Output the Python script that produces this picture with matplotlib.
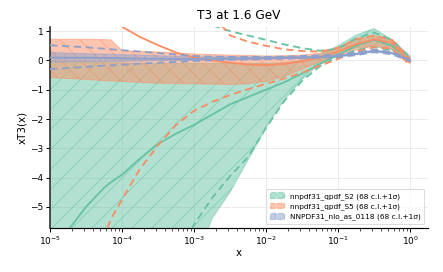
import numpy as np
import matplotlib
matplotlib.use("Agg")
import matplotlib.pyplot as plt
from matplotlib.patches import Patch

# ---- data (log10 x grid) ----
logx = [-5, -4.75, -4.5, -4.25, -4.15, -4, -3.75, -3.5, -3.25, -3, -2.75, -2.5,
        -2.25, -2, -1.75, -1.5, -1.25, -1, -0.75, -0.5, -0.25, 0]

# nnpdf31_qpdf_S2
s2_cv  = [-6.6, -5.8, -5.0, -4.35, -4.15, -3.9, -3.35, -2.85, -2.5, -2.2, -1.85, -1.5,
          -1.25, -1.0, -0.75, -0.45, -0.12, 0.18, 0.5, 0.7, 0.5, 0.0]
s2_hi  = [-0.05, -0.05, -0.06, -0.07, -0.07, -0.08, -0.09, -0.1, -0.1, -0.1, -0.1, -0.1,
          -0.1, -0.1, -0.08, 0.0, 0.2, 0.5, 0.86, 1.09, 0.7, 0.15]
s2_lo  = [-14, -13, -12, -11, -10.5, -10, -9, -8.5, -8, -7.0, -5.4, -4.5,
          -3.4, -2.3, -1.35, -0.65, -0.1, 0.22, 0.42, 0.48, 0.35, -0.05]
s2_su  = [6, 5.5, 5, 4.5, 4.3, 4, 3.2, 2.6, 2.0, 1.5, 1.2, 1.0,
          0.85, 0.7, 0.55, 0.42, 0.33, 0.4, 0.75, 0.95, 0.7, 0.1]
s2_sd  = [-20, -18, -16, -14, -13, -12, -10, -9, -7, -5.6, -4.7, -3.95,
          -3.3, -2.3, -1.4, -0.7, -0.2, 0.12, 0.35, 0.45, 0.35, -0.05]

# nnpdf31_qpdf_S5
s5_cv  = [4.5, 3.4, 2.5, 1.7, 1.45, 1.15, 0.8, 0.52, 0.27, 0.1, 0.0, -0.08,
          -0.14, -0.16, -0.12, -0.03, 0.1, 0.3, 0.55, 0.72, 0.6, -0.05]
s5_hi  = [0.72, 0.72, 0.72, 0.71, 0.70, 0.33, 0.31, 0.29, 0.25, 0.22, 0.2, 0.18,
          0.17, 0.15, 0.16, 0.18, 0.25, 0.45, 0.7, 0.85, 0.7, 0.1]
s5_lo  = [-0.58, -0.62, -0.65, -0.69, -0.7, -0.72, -0.75, -0.78, -0.79, -0.8, -0.81, -0.82,
          -0.8, -0.72, -0.55, -0.3, -0.05, 0.15, 0.35, 0.5, 0.4, -0.12]
s5_su  = [9, 8, 7, 6, 5.6, 5, 4.2, 3.4, 2.8, 2.2, 1.6, 0.85,
          0.64, 0.5, 0.38, 0.32, 0.3, 0.42, 0.72, 0.85, 0.7, 0.05]
s5_sd  = [-14, -10, -8, -6.0, -5.4, -4.75, -3.7, -2.9, -2.2, -1.72, -1.42, -1.18,
          -0.98, -0.8, -0.62, -0.42, -0.18, 0.05, 0.3, 0.45, 0.4, -0.15]

# NNPDF31_nlo_as_0118
n3_cv  = [0.1, 0.09, 0.09, 0.08, 0.08, 0.07, 0.06, 0.06, 0.05, 0.05, 0.06, 0.06,
          0.07, 0.08, 0.09, 0.1, 0.12, 0.15, 0.22, 0.32, 0.25, 0.0]
n3_hi  = [0.27, 0.25, 0.23, 0.22, 0.21, 0.2, 0.18, 0.16, 0.14, 0.12, 0.12, 0.12,
          0.12, 0.12, 0.13, 0.14, 0.15, 0.18, 0.25, 0.36, 0.28, 0.03]
n3_lo  = [-0.05, -0.05, -0.04, -0.04, -0.03, -0.03, -0.02, -0.01, 0.0, 0.0, 0.01, 0.02,
          0.03, 0.04, 0.06, 0.07, 0.09, 0.12, 0.19, 0.29, 0.22, -0.03]
n3_su  = [0.52, 0.48, 0.45, 0.4, 0.38, 0.35, 0.3, 0.25, 0.2, 0.15, 0.13, 0.12,
          0.12, 0.12, 0.13, 0.15, 0.17, 0.2, 0.27, 0.37, 0.29, 0.03]
n3_sd  = [-0.3, -0.26, -0.22, -0.18, -0.17, -0.15, -0.11, -0.08, -0.05, -0.02, 0.0, 0.02,
          0.03, 0.04, 0.06, 0.07, 0.09, 0.11, 0.18, 0.28, 0.21, -0.03]

labels = ["nnpdf31_qpdf_S2 (68 c.l.+1σ)",
          "nnpdf31_qpdf_S5 (68 c.l.+1σ)",
          "NNPDF31_nlo_as_0118 (68 c.l.+1σ)"]
colors = ["#66c2a5", "#fc8d62", "#8da0cb"]
hatches = ["//", "\\\\", "||"]

title = "T3 at 1.6 GeV"
xlabel = "x"
ylabel = "xT3(x)"

# ---- plot ----
DPI = 120
fig = plt.figure(figsize=(443 / DPI, 272 / DPI), dpi=DPI)
ax = fig.add_axes([0.1129, 0.1629, 0.8526, 0.7378])
plt.rcParams['hatch.linewidth'] = 0.6

x = 10.0 ** np.array(logx)
sets = [(s2_cv, s2_hi, s2_lo, s2_su, s2_sd),
        (s5_cv, s5_hi, s5_lo, s5_su, s5_sd),
        (n3_cv, n3_hi, n3_lo, n3_su, n3_sd)]

handles = []
for (cv, hi, lo, su, sd), c, h, lab in zip(sets, colors, hatches, labels):
    ax.fill_between(x, lo, hi, facecolor=c, alpha=0.5, edgecolor=c, hatch=h,
                    linewidth=0.6, zorder=2)
    ax.plot(x, cv, color=c, lw=1.1, zorder=3)
    ax.plot(x, su, color=c, lw=1.1, ls=(0, (4, 2.5)), zorder=3)
    ax.plot(x, sd, color=c, lw=1.1, ls=(0, (4, 2.5)), zorder=3)
    handles.append(Patch(facecolor=c, alpha=0.5, edgecolor=c, hatch=h,
                         linestyle='--', linewidth=0.8, label=lab))

ax.set_xscale('log')
ax.set_xlim(1e-5, 1.76)
ax.set_ylim(-5.71, 1.14)
ax.set_yticks([-5, -4, -3, -2, -1, 0, 1])
ax.grid(True, which='major', color='#ebebeb', lw=0.6, zorder=0)
ax.set_axisbelow(True)

for s in ['top', 'right']:
    ax.spines[s].set_visible(False)
ax.spines['left'].set_color('#333333')
ax.spines['left'].set_linewidth(1.0)
ax.spines['bottom'].set_color('black')
ax.spines['bottom'].set_linewidth(0.7)
ax.tick_params(axis='both', which='major', labelsize=5.4, length=2.5, width=0.6, pad=1.5)
ax.tick_params(axis='x', which='minor', length=1.5, width=0.4)

ax.set_title(title, fontsize=7.3, pad=5)
ax.set_xlabel(xlabel, fontsize=6.2, labelpad=1)
ax.set_ylabel(ylabel, fontsize=6.2, labelpad=2)

leg = ax.legend(handles=handles, loc='lower right', fontsize=4.4,
                frameon=True, fancybox=True, framealpha=0.8, borderaxespad=0.5,
                handlelength=2.0, handleheight=0.8, borderpad=0.5, labelspacing=0.45,
                handletextpad=0.7)
leg.get_frame().set_linewidth(0.5)
leg.get_frame().set_edgecolor('#cccccc')

fig.savefig("out.png", dpi=DPI)
